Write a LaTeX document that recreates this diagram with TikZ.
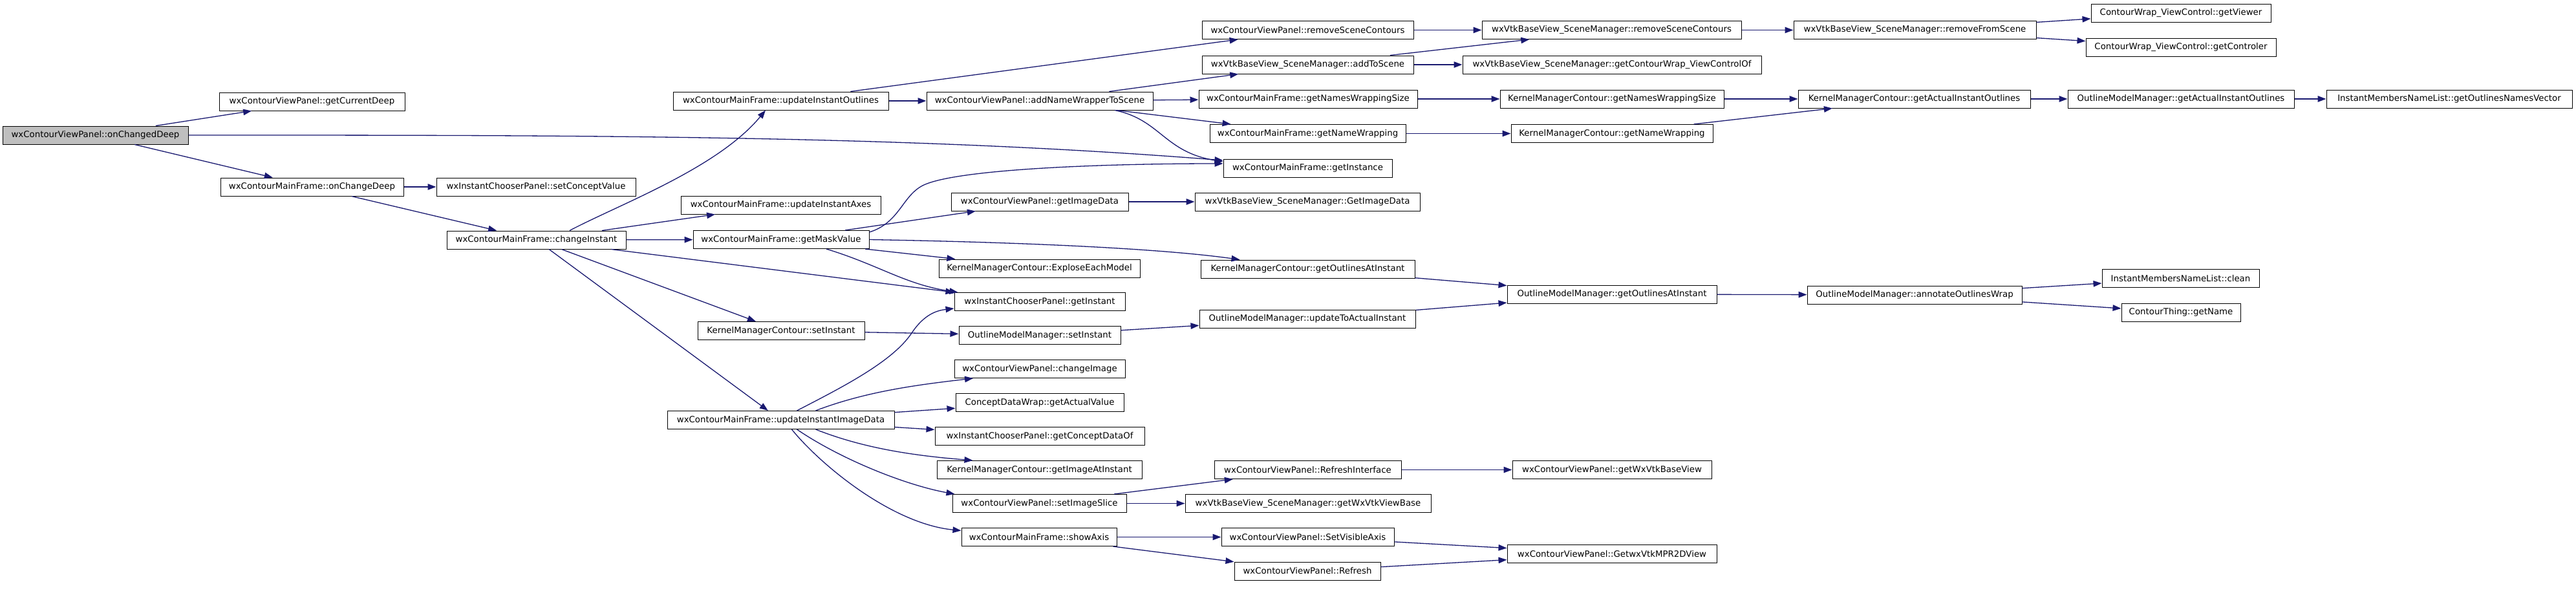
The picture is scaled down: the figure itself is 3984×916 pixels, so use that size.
\documentclass[tikz,border=0pt]{standalone}
\usepackage{fontspec}
\setmainfont{DejaVu Sans}
\usetikzlibrary{arrows.meta}
\definecolor{edgeblue}{HTML}{191970}
\definecolor{rootgray}{HTML}{BFBFBF}
\begin{document}
\begin{tikzpicture}[x=1pt,y=-1pt,
  fn/.style={draw=black, line width=1pt, fill=white, minimum height=28pt, inner sep=0pt,
    font=\fontsize{13.33}{16}\selectfont},
  root/.style={fn, fill=rootgray},
  call/.style={draw=edgeblue, line width=1.3pt, -{Triangle[length=13pt,width=9.5pt,fill=edgeblue]}}]
\useasboundingbox (0,0) rectangle (3984,916);
% column 0
\node[root, minimum width=287pt] (n0) at (147.5,209) {wxContourViewPanel::onChangedDeep};
% column 1
\node[fn, minimum width=287pt] (n1) at (482.5,157) {wxContourViewPanel::getCurrentDeep};
\node[fn, minimum width=283pt] (n2) at (482.5,289) {wxContourMainFrame::onChangeDeep};
% column 2
\node[fn, minimum width=308pt] (n3) at (829,289) {wxInstantChooserPanel::setConceptValue};
\node[fn, minimum width=277pt] (n4) at (829.5,371) {wxContourMainFrame::changeInstant};
% column 3
\node[fn, minimum width=333pt] (n5) at (1207.5,156) {wxContourMainFrame::updateInstantOutlines};
\node[fn, minimum width=309pt] (n6) at (1207.5,317) {wxContourMainFrame::updateInstantAxes};
\node[fn, minimum width=272pt] (n7) at (1208,370.5) {wxContourMainFrame::getMaskValue};
\node[fn, minimum width=258pt] (n8) at (1208,511.5) {KernelManagerContour::setInstant};
\node[fn, minimum width=351pt] (n9) at (1207.5,649.5) {wxContourMainFrame::updateInstantImageData};
% column 4
\node[fn, minimum width=350pt] (n10) at (1608,156) {wxContourViewPanel::addNameWrapperToScene};
\node[fn, minimum width=274pt] (n11) at (1608,312) {wxContourViewPanel::getImageData};
\node[fn, minimum width=311pt] (n12) at (1607.5,415) {KernelManagerContour::ExploseEachModel};
\node[fn, minimum width=264pt] (n13) at (1608,466.5) {wxInstantChooserPanel::getInstant};
\node[fn, minimum width=250pt] (n14) at (1608,518.5) {OutlineModelManager::setInstant};
\node[fn, minimum width=264pt] (n15) at (1608,570.5) {wxContourViewPanel::changeImage};
\node[fn, minimum width=260pt] (n16) at (1608,622.5) {ConceptDataWrap::getActualValue};
\node[fn, minimum width=324pt] (n17) at (1608,674.5) {wxInstantChooserPanel::getConceptDataOf};
\node[fn, minimum width=317pt] (n18) at (1607.5,726.5) {KernelManagerContour::getImageAtInstant};
\node[fn, minimum width=269pt] (n19) at (1607.5,778.5) {wxContourViewPanel::setImageSlice};
\node[fn, minimum width=240pt] (n20) at (1607,830.5) {wxContourMainFrame::showAxis};
% column 5
\node[fn, minimum width=327pt] (n21) at (2022.5,46.5) {wxContourViewPanel::removeSceneContours};
\node[fn, minimum width=327pt] (n22) at (2022.5,100) {wxVtkBaseView\_SceneManager::addToScene};
\node[fn, minimum width=338pt] (n23) at (2023,153) {wxContourMainFrame::getNamesWrappingSize};
\node[fn, minimum width=303pt] (n24) at (2022.5,206.5) {wxContourMainFrame::getNameWrapping};
\node[fn, minimum width=261pt] (n25) at (2022.5,260) {wxContourMainFrame::getInstance};
\node[fn, minimum width=348pt] (n26) at (2022,312) {wxVtkBaseView\_SceneManager::GetImageData};
\node[fn, minimum width=331pt] (n27) at (2022.5,416) {KernelManagerContour::getOutlinesAtInstant};
\node[fn, minimum width=334pt] (n28) at (2022,493) {OutlineModelManager::updateToActualInstant};
\node[fn, minimum width=289pt] (n29) at (2022.5,726.5) {wxContourViewPanel::RefreshInterface};
\node[fn, minimum width=380pt] (n30) at (2023,778.5) {wxVtkBaseView\_SceneManager::getWxVtkViewBase};
\node[fn, minimum width=267pt] (n31) at (2022.5,830.5) {wxContourViewPanel::SetVisibleAxis};
\node[fn, minimum width=226pt] (n32) at (2022,883) {wxContourViewPanel::Refresh};
% column 6
\node[fn, minimum width=401pt] (n33) at (2492.5,46.5) {wxVtkBaseView\_SceneManager::removeSceneContours};
\node[fn, minimum width=462pt] (n34) at (2493,100) {wxVtkBaseView\_SceneManager::getContourWrap\_ViewControlOf};
\node[fn, minimum width=346pt] (n35) at (2493,153) {KernelManagerContour::getNamesWrappingSize};
\node[fn, minimum width=312pt] (n36) at (2493,206.5) {KernelManagerContour::getNameWrapping};
\node[fn, minimum width=324pt] (n37) at (2493,455) {OutlineModelManager::getOutlinesAtInstant};
\node[fn, minimum width=308pt] (n38) at (2493,726.5) {wxContourViewPanel::getWxVtkBaseView};
\node[fn, minimum width=324pt] (n39) at (2493,856.5) {wxContourViewPanel::GetwxVtkMPR2DView};
% column 7
\node[fn, minimum width=375pt] (n40) at (2961.5,46.5) {wxVtkBaseView\_SceneManager::removeFromScene};
\node[fn, minimum width=359pt] (n41) at (2960.5,153) {KernelManagerContour::getActualInstantOutlines};
\node[fn, minimum width=332pt] (n42) at (2961,456) {OutlineModelManager::annotateOutlinesWrap};
% column 8
\node[fn, minimum width=278pt] (n43) at (3373,20) {ContourWrap\_ViewControl::getViewer};
\node[fn, minimum width=294pt] (n44) at (3373,73) {ContourWrap\_ViewControl::getControler};
\node[fn, minimum width=350pt] (n45) at (3373,153) {OutlineModelManager::getActualInstantOutlines};
\node[fn, minimum width=243pt] (n46) at (3372.5,430.5) {InstantMembersNameList::clean};
\node[fn, minimum width=184pt] (n47) at (3373,483) {ContourThing::getName};
% column 9
\node[fn, minimum width=380pt] (n48) at (3788,153) {InstantMembersNameList::getOutlinesNamesVector};

% edges
\draw[call] (n0) -- (n1);
\draw[call] (n0) -- (n2);
\draw[call] (n0.east) .. controls (900,209) and (1400,209) .. ([yshift=12pt]n25.west);
\draw[call] (n2) -- (n3);
\draw[call] (n2) -- (n4);
\draw[call] ([xshift=51.5pt]n4.north) .. controls (960,315) and (1110,260) .. ([xshift=-23.5pt]n5.south);
\draw[call] (n4) -- (n6);
\draw[call] (n4) -- (n7);
\draw[call] (n4) -- (n13.north west);
\draw[call] (n4) -- (n8);
\draw[call] (n4) -- (n9);
\draw[call] (n5) -- (n10);
\draw[call] (n5) -- (n21);
\draw[call] (n10) -- (n22);
\draw[call] (n10) -- (n23);
\draw[call] (n10) -- (n24);
\draw[call] ([xshift=116pt]n10.south) .. controls (1795,185) and (1800,235) .. ([yshift=10pt]n25.west);
\draw[call] (n7) -- (n11);
\draw[call] ([yshift=-3pt]n7.north east) .. controls (1390,345) and (1395,305) .. (1425,288) .. controls (1470,262) and (1700,253) .. ([yshift=7pt]n25.west);
\draw[call] (n7) -- (n12);
\draw[call] (n7.east) .. controls (1600,375) and (1800,385) .. ([xshift=-105pt]n27.north);
\draw[call] ([xshift=70pt]n7.south) .. controls (1360,410) and (1400,440) .. ([xshift=6pt]n13.north west);
\draw[call] (n8) -- (n14);
\draw[call] ([xshift=25pt]n9.north) .. controls (1300,600) and (1380,560) .. (1410,515) .. controls (1430,485) and (1450,480) .. ([yshift=-10.5pt]n13.west);
\draw[call] ([xshift=54pt]n9.north) .. controls (1340,605) and (1420,595) .. ([xshift=-103pt]n15.south);
\draw[call] (n9) -- (n16);
\draw[call] (n9) -- (n17);
\draw[call] ([xshift=54pt]n9.south) .. controls (1340,695) and (1420,705) .. ([xshift=-103pt]n18.north);
\draw[call] ([xshift=25pt]n9.south) .. controls (1300,710) and (1400,750) .. ([xshift=-131pt]n19.north);
\draw[call] ([xshift=17pt]n9.south) .. controls (1270,720) and (1380,810) .. ([yshift=10pt]n20.west);
\draw[call] (n11) -- (n26);
\draw[call] (n14) -- (n28);
\draw[call] (n19) -- (n29);
\draw[call] (n19) -- (n30);
\draw[call] (n20) -- (n31);
\draw[call] (n20) -- (n32);
\draw[call] (n21) -- (n33);
\draw[call] (n22) -- (n33);
\draw[call] (n22) -- (n34);
\draw[call] (n23) -- (n35);
\draw[call] (n24) -- (n36);
\draw[call] (n27) -- (n37);
\draw[call] (n28) -- (n37);
\draw[call] (n29) -- (n38);
\draw[call] (n31) -- (n39);
\draw[call] (n32) -- (n39);
\draw[call] (n33) -- (n40);
\draw[call] (n35) -- (n41);
\draw[call] (n36) -- (n41);
\draw[call] (n37) -- (n42);
\draw[call] (n40) -- (n43);
\draw[call] (n40) -- (n44);
\draw[call] (n41) -- (n45);
\draw[call] (n45) -- (n48);
\draw[call] (n42) -- (n46);
\draw[call] (n42) -- (n47);
\end{tikzpicture}
\end{document}
